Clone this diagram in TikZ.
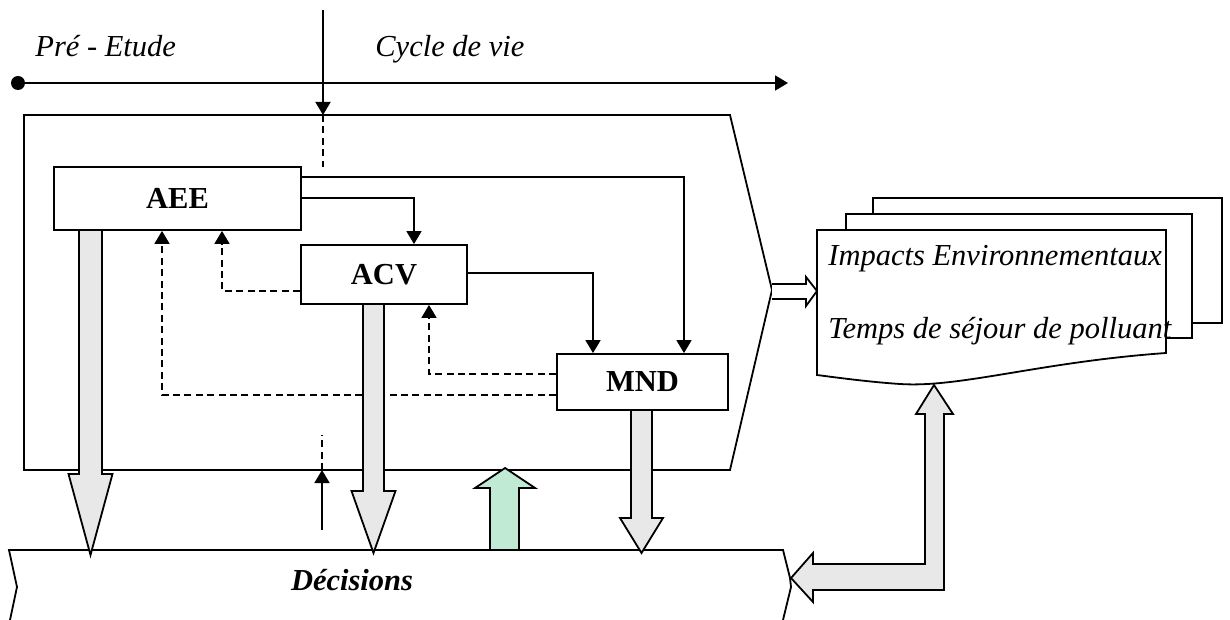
\documentclass[tikz,border=0pt]{standalone}
\usepackage{fontspec}
\setmainfont{Liberation Serif}
\usetikzlibrary{arrows.meta,calc}
\definecolor{fatgray}{RGB}{232,232,232}
\definecolor{fatgreen}{RGB}{192,234,212}
\tikzset{
  txt/.style={font=\fontsize{15.25pt}{18pt}\selectfont, inner sep=0pt},
  itxt/.style={txt, font=\fontsize{15.25pt}{18pt}\selectfont\itshape},
  stagebox/.style={draw, line width=0.9pt, fill=white, inner sep=0pt,
    font=\fontsize{15.25pt}{18pt}\selectfont\bfseries},
  outline/.style={draw, line width=0.9pt},
  arr/.style={line width=0.8pt, -{Triangle[width=7.5pt,length=6.5pt]}},
  darr/.style={arr, dash pattern=on 3.5pt off 2.2pt},
  dline/.style={line width=0.8pt, dash pattern=on 3.5pt off 2.2pt},
  fat/.style={draw, line width=0.9pt, fill=fatgray, line join=miter},
  fatg/.style={draw, line width=0.9pt, fill=fatgreen, line join=miter},
}
\newcommand{\fatdownarrow}[7]{% xc, ytop, yhead, ytip, half shaft, half head, style
  \path[#7] (#1-#5,#2) -- (#1+#5,#2) -- (#1+#5,#3) -- (#1+#6,#3) -- (#1,#4)
    -- (#1-#6,#3) -- (#1-#5,#3) -- cycle;}
\begin{document}
\begin{tikzpicture}[x=0.5pt,y=-0.5pt]
\useasboundingbox (0,0) rectangle (1230,620);

% timeline
\node[circle, fill, inner sep=0pt, minimum size=7pt] (start) at (18,83) {};
\coordinate (tlend) at (788,83);
\draw[arr, line width=0.9pt] (start.center) -- (tlend);
\node[itxt, anchor=base west] (pre) at (35,57) {Pré - Etude};
\node[itxt, anchor=base west] (cycle) at (375,57) {Cycle de vie};

% big frame
\path[outline] (24,115) -- (730,115) -- (772,290) -- (730,470) -- (24,470) -- cycle;

% decisions band
\path[outline] (10,620) -- (17,587) -- (9,550) -- (783,550) -- (790,578) -- (791,587) -- (783,620);
\node[txt, font=\fontsize{15.25pt}{18pt}\selectfont\bfseries\itshape, anchor=base] (dec) at (352,590) {Décisions};

% incoming arrow from top
\coordinate (topin) at (323,10);
\coordinate (topframe) at (323,115);
\coordinate (topdash) at (323,167);
\draw[arr] (topin) -- (topframe);
\draw[dline] (topframe) -- (topdash);

% small arrow at bottom
\coordinate (botin) at (322,530);
\coordinate (botframe) at (322,470);
\coordinate (botdash) at (322,435);
\draw[arr] (botin) -- (botframe);
\draw[dline] (botframe) -- (botdash);

% boxes
\node[stagebox, minimum width=123.5pt, minimum height=31.5pt] (AEE) at (177.5,198.5) {AEE};
\node[stagebox, minimum width=83pt, minimum height=29.5pt] (ACV) at (384,274.5) {ACV};
\node[stagebox, minimum width=85.5pt, minimum height=28pt] (MND) at (642.5,382) {MND};

% solid connectors
\draw[arr] (AEE.east |- 0,177) -| (MND.north -| 684,0);
\draw[arr] (AEE.east |- 0,198) -| (ACV.north -| 414,0);
\draw[arr] (ACV.east |- 0,273) -| (MND.north -| 593,0);

% dashed feedback connectors
\draw[darr] (ACV.west |- 0,291) -| (AEE.south -| 222,0);
\draw[darr] (MND.west |- 0,374) -| (ACV.south -| 429,0);
\draw[darr] (MND.west |- 0,395) -| (AEE.south -| 162,0);

% fat arrows to decisions
\fatdownarrow{90.5}{230}{474}{555}{11.5}{22}{fat}
\fatdownarrow{373.5}{304}{491}{553}{10.5}{22}{fat}
\fatdownarrow{641.5}{410}{518}{553}{10.5}{21.5}{fat}
% green up arrow
\path[fatg] (490,550) -- (519,550) -- (519,488) -- (535,488) -- (505,468) -- (475,488) -- (490,488) -- cycle;

% documents
\path[outline, fill=white] (873,198) rectangle (1222,323);
\path[outline, fill=white] (846,214) rectangle (1192,338);
\path[outline, fill=white] (817,230) -- (1166,230) -- (1166,353)
  .. controls (1040,362) and (960,388) .. (900,384)
  .. controls (870,382) and (840,378) .. (817,375) -- cycle;
\node[itxt, anchor=base west] (imp) at (828,265) {Impacts Environnementaux};
\node[itxt, anchor=base west] (tps) at (828,338) {Temps de séjour de polluant};

% hollow arrow frame -> documents
\path[outline, fill=white, line join=miter] (772,284) -- (806,284) -- (806,277) -- (817,291)
  -- (806,306) -- (806,299) -- (772,299);

% L-shaped double arrow
\path[fat] (934,385) -- (953,414) -- (944,414) -- (944,590) -- (813,590) -- (813,602)
  -- (791,578) -- (813,553) -- (813,564) -- (925,564) -- (925,414) -- (916,414) -- cycle;
\end{tikzpicture}
\end{document}
